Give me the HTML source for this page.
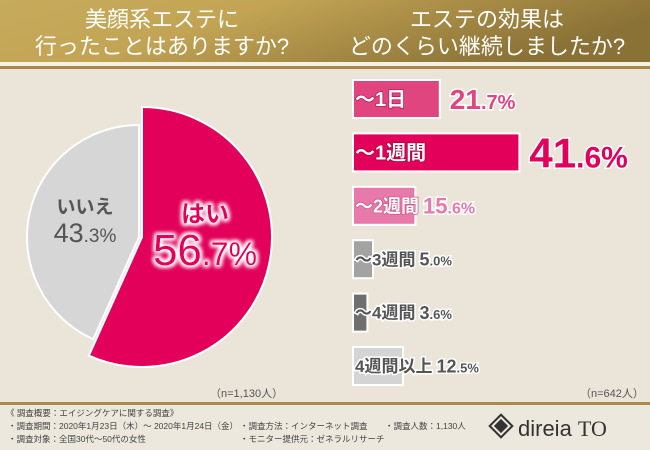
<!DOCTYPE html>
<html><head><meta charset="utf-8">
<style>
body{margin:0;width:650px;height:450px;overflow:hidden;background:#ebe5d9;font-family:"Liberation Sans","Noto Sans CJK JP",sans-serif;}
svg{display:block}
</style></head>
<body>
<svg id="chart" width="650" height="450" xmlns="http://www.w3.org/2000/svg">
<defs>
<linearGradient id="hg" x1="0" y1="0" x2="1" y2="0.3">
<stop offset="0" stop-color="#c7ab5c"/><stop offset="0.4" stop-color="#c2a454"/><stop offset="1" stop-color="#8a7136"/>
</linearGradient>
<filter id="glow" x="-20%" y="-40%" width="140%" height="180%"><feMorphology operator="dilate" radius="1.5" in="SourceAlpha" result="d"/><feGaussianBlur in="d" stdDeviation="2" result="b"/><feFlood flood-color="#fff"/><feComposite in2="b" operator="in" result="w"/><feMerge><feMergeNode in="w"/><feMergeNode in="w"/><feMergeNode in="SourceGraphic"/></feMerge></filter>
</defs>
<rect x="0" y="0" width="650" height="62" fill="url(#hg)"/>
<rect x="0" y="62" width="650" height="4" fill="#f6f1e6"/>
<rect x="0" y="66" width="650" height="3" fill="#a8894a"/>
<g fill="#fff" font-size="22" text-anchor="middle">
<text x="162" y="27">美顔系エステに</text>
<text x="162" y="54">行ったことはありますか?</text>
<text x="487" y="27">エステの効果は</text>
<text x="487" y="54">どのくらい継続しましたか?</text>
</g>
<g id="pie"></g>
<g id="bars"></g>
<text x="210" y="397" font-size="11" fill="#555">（n=1,130人）</text>
<text x="580" y="397" font-size="11" fill="#555">（n=642人）</text>
<rect x="0" y="402" width="650" height="3" fill="#a8894a"/>
<rect x="0" y="405" width="650" height="45" fill="#ede8dd"/>
<g font-size="8.5" fill="#444">
<text x="6" y="416">《 調査概要：エイジングケアに関する調査》</text>
<text x="8" y="429">・調査期間：2020年1月23日（木）～ 2020年1月24日（金）</text>
<text x="8" y="442">・調査対象：全国30代～50代の女性</text>
<text x="240" y="429">・調査方法：インターネット調査</text>
<text x="240" y="442">・モニター提供元：ゼネラルリサーチ</text>
<text x="385" y="429">・調査人数：1,130人</text>
</g>
<g>
<rect x="493" y="418" width="16" height="16" transform="rotate(45 501 426)" fill="none" stroke="#333" stroke-width="2"/>
<rect x="496" y="421" width="10" height="10" transform="rotate(45 501 426)" fill="#333"/>
<text x="518" y="436" font-size="22" fill="#333">direia <tspan font-family="Liberation Serif">TO</tspan></text>
</g>
</svg>
<script>
const pieLabels=["はい","いいえ"];
const pieValues=[56.7,43.3];
const barLabels=["～1日","～1週間","～2週間","～3週間","～4週間","4週間以上"];
const barValues=[21.7,41.6,15.6,5.0,3.6,12.5];
const NS="http://www.w3.org/2000/svg";
function mk(t,a,p){const e=document.createElementNS(NS,t);for(const k in a)e.setAttribute(k,a[k]);p.appendChild(e);return e;}
const pie=document.getElementById('pie');
const total=pieValues.reduce((a,b)=>a+b,0);
const cx=[142,139],cy=[237,237],rr=[130,112],pc=["#e3005a","#d6d6d6"];
let a0=0;
pieValues.forEach((v,i)=>{
 const a1=a0+v/total*2*Math.PI;
 const x0=cx[i]+rr[i]*Math.sin(a0),y0=cy[i]-rr[i]*Math.cos(a0);
 const x1=cx[i]+rr[i]*Math.sin(a1),y1=cy[i]-rr[i]*Math.cos(a1);
 const p=mk('path',{d:`M${cx[i]},${cy[i]} L${x0},${y0} A${rr[i]},${rr[i]} 0 ${a1-a0>Math.PI?1:0} 1 ${x1},${y1} Z`,fill:pc[i],stroke:'#fff','stroke-width':2},pie);
 
 
 a0=a1;
});
const t1=mk('text',{x:205,y:222,'font-size':24,fill:'#e3005a','text-anchor':'middle',filter:'url(#glow)','font-weight':'bold'},pie);
t1.textContent=pieLabels[0];


const t2=mk('text',{x:205,y:265,'font-size':44,fill:'#e3005a','text-anchor':'middle',filter:'url(#glow)'},pie);
const [i1,d1]=pieValues[0].toFixed(1).split('.');
t2.innerHTML=`${i1}<tspan font-size="32">.${d1}%</tspan>`;


const t3=mk('text',{x:85,y:213,'font-size':19,fill:'#555','text-anchor':'middle','font-weight':'bold'},pie);
t3.textContent=pieLabels[1];


const t4=mk('text',{x:85,y:242,'font-size':27,fill:'#555','text-anchor':'middle'},pie);
const [i2,d2]=pieValues[1].toFixed(1).split('.');
t4.innerHTML=`${i2}<tspan font-size="19">.${d2}%</tspan>`;


const bars=document.getElementById('bars');
const bx=353,scale=4.0,top0=80,step=53.4,bh=38;
const bcol=["#e0457f","#e3005a","#e87aab","#a3a3a3","#6f6f6f","#d4d4d4"];
const vcol=["#e0457f","#e3005a","#e87aab","#555","#555","#555"];
const lcol=["#fff","#fff","#fff","#555","#555","#555"];
const lstroke=["#b8195a","#a8003f","#d0558c","#fff","#fff","#fff"];
const lsize=[20,20,18,17,17,17];
const vsize=[28,42,22,18,18,18];
barValues.forEach((v,i)=>{
 const y=top0+i*step, w=v*scale;
 const r=mk('rect',{x:bx,y:y,width:w,height:bh,fill:bcol[i],stroke:'#fff','stroke-width':2},bars);
 
 
 const lt=mk('text',{x:bx+2,y:y+bh/2+lsize[i]*0.36,'font-size':lsize[i],fill:lcol[i],stroke:lstroke[i],'stroke-width':i<3?1.5:3,'paint-order':'stroke','font-weight':'bold'},bars);
 lt.textContent=barLabels[i];
 
 
 const lw=lt.getComputedTextLength();
 const vx=Math.max(bx+w,bx+2+lw)+(i<2?10:4);
 const [ip,dp]=v.toFixed(1).split('.');
 const vt=mk('text',{x:vx,y:y+bh/2+vsize[i]*0.36,'font-size':vsize[i],fill:vcol[i],stroke:'#fff','stroke-width':3,'paint-order':'stroke','font-weight':'bold'},bars);
 vt.innerHTML=`${ip}<tspan font-size="${Math.round(vsize[i]*0.72)}">.${dp}%</tspan>`;
 
 
});
</script>
</body></html>
